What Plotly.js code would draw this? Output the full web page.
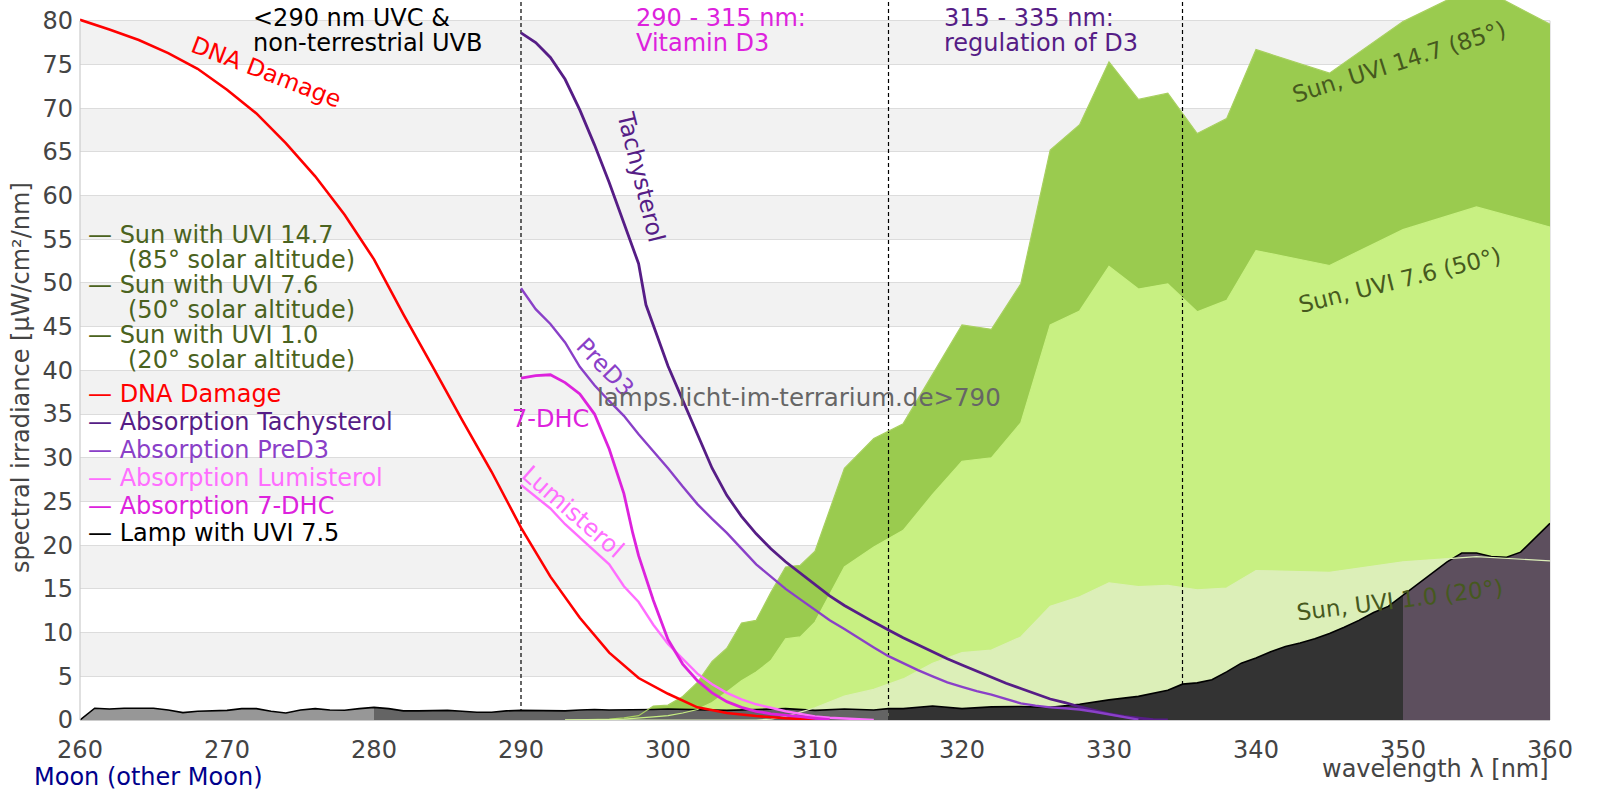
<!DOCTYPE html>
<html>
<head>
<meta charset="utf-8">
<script src="https://cdn.plot.ly/plotly-3.0.1.min.js"></script>
<style>html,body{margin:0;padding:0;background:#fff}#chart{width:1600px;height:800px}</style>
</head>
<body>
<div id="chart"></div>
<script>
// ---------- data ----------
const xTicks = [260, 270, 280, 290, 300, 310, 320, 330, 340, 350, 360];
const yTicks = [0, 5, 10, 15, 20, 25, 30, 35, 40, 45, 50, 55, 60, 65, 70, 75, 80];
const regionBounds = [290, 315, 335];

const sunX = [293,294,295,296,297,298,299,300,301,302,303,304,305,306,307,308,309,310,
  312,314,316,318,320,322,324,326,328,330,332,334,336,338,340,345,350,355,360];
const sunUVI147 = [0,0.02,0.05,0.1,0.25,0.5,1.6,1.7,2.7,4.3,6.7,8.2,11.1,11.4,14.6,17.5,17.7,19.3,
  28.8,32.2,33.9,39.5,45.2,44.7,49.9,65.2,68.1,75.3,71.0,71.7,67.1,68.8,76.7,74.0,79.9,84.0,79.6];
const sunUVI76 = [0,0,0.02,0.05,0.1,0.2,0.35,0.5,0.8,1.2,2.0,3.2,4.5,5.5,6.8,9.3,9.5,11.2,
  17.5,19.8,21.7,25.8,29.6,30.0,34.0,45.2,46.8,51.9,49.3,49.9,46.7,48.0,53.7,52.0,56.1,58.7,56.4];
const sunUVI10 = [0,0,0,0,0,0,0,0,0,0,0,0,0,0,0.1,0.4,0.9,1.4,
  2.75,3.5,4.7,6.5,7.7,8.0,9.5,13.0,14.1,15.7,15.25,15.4,14.9,15.1,17.1,16.9,18.1,18.7,18.2];

const lampX = [260,261,262,263,264,265,266,267,268,269,270,271,272,273,274,275,276,277,278,279,
  280,281,282,283,284,285,286,287,288,289,290,291,292,293,294,295,296,297,298,299,300,
  302,304,306,308,310,312,314,315,316,318,320,322,324,326,328,330,332,334,
  335,336,337,338,339,340,341,342,343,344,345,346,347,348,349,350,351,352,353,354,355,356,357,358,359,360];
const lampUVI75 = [0,1.35,1.25,1.35,1.35,1.35,1.15,0.85,1.0,1.04,1.1,1.3,1.3,1.0,0.8,1.15,1.3,1.15,1.12,1.3,
  1.45,1.3,1.04,1.04,1.04,1.1,1.0,0.88,0.88,1.04,1.1,1.1,1.04,1.04,1.15,1.2,1.15,1.15,1.15,1.2,1.25,
  1.2,1.1,1.2,1.3,1.1,1.25,1.15,1.3,1.3,1.6,1.3,1.5,1.55,1.45,1.8,2.3,2.7,3.4,
  4.1,4.25,4.6,5.5,6.5,7.1,7.8,8.4,8.8,9.3,9.9,10.6,11.4,12.3,13.0,14.3,15.5,16.8,18.1,19.1,19.1,18.7,18.6,19.2,20.8,22.5];
const lampBands = [260, 280, 315, 350, 360];

const dnaX = [260,262,264,266,268,270,272,274,276,278,280,282,284,286,288,290,292,294,296,298,300,302,304,306,308,310];
const dnaDamage = [80.1,79.0,77.8,76.3,74.5,72.1,69.4,66.0,62.2,57.8,52.7,46.4,40.4,34.3,28.4,22.0,16.4,11.7,7.7,4.8,3.0,1.45,0.8,0.45,0.2,0.05];

const tachX = [290,291,292,293,294,295,296,297,298,298.5,299,300,301,302,303,304,305,306,307,308,309,310,
  311,312,313,314,315,316,317,318,319,320,321,322,323,324,325,326,327,328,329,330,331,332,333,334];
const tachysterol = [78.6,77.5,75.8,73.3,69.8,65.8,61.5,56.8,52.2,47.5,45.2,40.5,36.6,32.8,28.8,25.7,23.3,21.3,19.6,18.1,16.8,15.5,
  14.2,13.1,12.1,11.2,10.3,9.4,8.6,7.8,7.0,6.3,5.6,4.9,4.2,3.6,3.0,2.4,2.0,1.5,1.1,0.7,0.4,0.2,0.05,0];

const preX = [290,291,292,293,294,295,296,297,298,299,300,301,302,303,304,305,306,307,308,309,
  310,311,312,313,314,315,316,317,318,319,320,321,322,323,324,325,326,327,328,329,330,331,332];
const preD3 = [49.4,47.0,45.3,43.2,40.4,38.3,36.5,34.8,32.7,30.8,28.8,26.7,24.7,23.0,21.4,19.6,17.8,16.4,15.0,13.8,
  12.6,11.4,10.4,9.3,8.3,7.3,6.5,5.7,5.0,4.3,3.8,3.3,2.9,2.4,1.9,1.65,1.45,1.35,1.2,0.95,0.65,0.35,0.05];

const lumiX = [290,291,292,293,294,295,296,297,298,299,300,301,302,303,304,305,306,307,308,309,310,311,312,313,314];
const lumisterol = [26.9,25.5,24.2,22.4,20.9,19.4,17.8,15.3,13.5,10.9,8.7,7.0,5.3,4.1,3.1,2.35,1.8,1.4,1.0,0.7,0.4,0.25,0.15,0.05,0];

const dhcX = [290,291,292,293,294,295,296,297,297.6,298,299,300,301,302,303,304,305,306,307,308,309,310,311];
const dhc7 = [39.1,39.4,39.5,38.6,37.3,35.0,31.0,25.9,21.4,18.8,13.7,9.2,6.4,4.5,3.1,2.1,1.45,1.0,0.7,0.5,0.38,0.2,0.05];

// ---------- styles ----------
const FONT = 'DejaVu Sans, Verdana, sans-serif';
const C = {
  sun147: '#9acb4f', sun76: '#c8f082', sun10: '#dcefb8',
  lampBands: ['#979797', '#646464', '#333333', '#5d4f5e'],
  dna: '#ff0000', tach: '#561d86', pre: '#8a40c8', lumi: '#ff6eff', dhc: '#dd22dd',
  sunText: '#4b6320', sunLabel: '#46591e', axis: '#444444'
};
const yTop = 82.37;

// ---------- traces ----------
const traces = [];
function fillTrace(x, y, color) {
  return {x, y, type: 'scatter', mode: 'lines', fill: 'tozeroy', fillcolor: color,
          line: {width: 0, color: color}, hoverinfo: 'skip', showlegend: false};
}
function lineTrace(x, y, color, width, dash) {
  return {x, y, type: 'scatter', mode: 'lines', line: {color, width, dash: dash || 'solid'},
          hoverinfo: 'skip', showlegend: false};
}
traces.push(fillTrace(sunX, sunUVI147, C.sun147));
traces.push(fillTrace(sunX, sunUVI76, C.sun76));
traces.push(fillTrace(sunX, sunUVI10, C.sun10));
regionBounds.forEach(b => traces.push(lineTrace([b, b], [0, yTop], '#000', 1.2, '4px,3px')));
for (let i = 0; i < lampBands.length - 1; i++) {
  const xs = [], ys = [];
  lampX.forEach((x, k) => { if (x >= lampBands[i] && x <= lampBands[i + 1]) { xs.push(x); ys.push(lampUVI75[k]); } });
  traces.push(fillTrace(xs, ys, C.lampBands[i]));
}
traces.push(lineTrace(lampX, lampUVI75, '#000', 1.6));
traces.push(lineTrace(sunX, sunUVI147, '#a8d060', 1.2));
traces.push(lineTrace(sunX, sunUVI76, '#c8f082', 1.2));
traces.push(lineTrace(sunX, sunUVI10, '#dcefb8', 1.2));
traces.push(lineTrace(dnaX, dnaDamage, C.dna, 2.6));
traces.push(lineTrace(tachX, tachysterol, C.tach, 2.8));
traces.push(lineTrace(preX, preD3, C.pre, 2.4));
traces.push(lineTrace(lumiX, lumisterol, C.lumi, 2.4));
traces.push(lineTrace(dhcX, dhc7, C.dhc, 2.8));

// ---------- annotations (pixel positions -> paper) ----------
const PL = 80, PR = 1550, PB = 720;
const px = p => (p - PL) / (PR - PL);
const py = p => (PB - p) / PB;
function ann(text, x, y, color, o) {
  o = o || {};
  return {text, x: px(x), y: py(y), xref: 'paper', yref: 'paper', showarrow: false,
          xanchor: o.xa || 'left', yanchor: 'middle', textangle: o.angle || 0,
          font: {family: FONT, size: o.size || 24, color}, borderpad: 0};
}
const annotations = [
  ann('<290 nm UVC &amp;', 252, 18, '#000'),
  ann('non-terrestrial UVB', 252, 43, '#000'),
  ann('290 - 315 nm:', 635, 18, C.dhc),
  ann('Vitamin D3', 635, 43, C.dhc),
  ann('315 - 335 nm:', 943, 18, C.tach),
  ann('regulation of D3', 943, 43, C.tach),

  ann('— Sun with UVI 14.7', 87, 235, C.sunText),
  ann('(85° solar altitude)', 127, 260, C.sunText),
  ann('— Sun with UVI 7.6', 87, 285, C.sunText),
  ann('(50° solar altitude)', 127, 310, C.sunText),
  ann('— Sun with UVI 1.0', 87, 335, C.sunText),
  ann('(20° solar altitude)', 127, 360, C.sunText),
  ann('— DNA Damage', 87, 394, C.dna),
  ann('— Absorption Tachysterol', 87, 422, C.tach),
  ann('— Absorption PreD3', 87, 450, C.pre),
  ann('— Absorption Lumisterol', 87, 478, C.lumi),
  ann('— Absorption 7-DHC', 87, 506, C.dhc),
  ann('— Lamp with UVI 7.5', 87, 533, '#000'),

  ann('DNA Damage', 266, 72, C.dna, {xa: 'center', angle: 21, size: 23.5}),
  ann('Tachysterol', 641, 177, C.tach, {xa: 'center', angle: 76, size: 23.5}),
  ann('PreD3', 605, 367, C.pre, {xa: 'center', angle: 46, size: 23.5}),
  ann('7-DHC', 550, 419, C.dhc, {xa: 'center', size: 24}),
  ann('Lumisterol', 573, 512, C.lumi, {xa: 'center', angle: 41, size: 24}),
  ann('lamps.licht-im-terrarium.de&gt;790', 799, 397, '#666666', {xa: 'center', size: 24.5}),

  ann('Sun, UVI 14.7 (85°)', 1399, 62, C.sunLabel, {xa: 'center', angle: -17.5, size: 23}),
  ann('Sun, UVI 7.6 (50°)', 1400, 280, C.sunLabel, {xa: 'center', angle: -14, size: 23}),
  ann('Sun, UVI 1.0 (20°)', 1400, 600, C.sunLabel, {xa: 'center', angle: -7, size: 23}),

  ann('spectral irradiance [µW/cm²/nm]', 21, 378, C.axis, {xa: 'center', angle: -90, size: 24}),
  ann('wavelength λ [nm]', 1550, 769, C.axis, {xa: 'right', size: 24}),
  ann('Moon (other Moon)', 33, 777, '#00008b', {size: 24})
];

// ---------- shapes: alternating bands & frame ----------
const shapes = [];
for (let i = 1; i < yTicks.length - 1; i += 2) {
  shapes.push({type: 'rect', xref: 'x domain', yref: 'y', x0: 0, x1: 1, y0: yTicks[i], y1: yTicks[i + 1],
               fillcolor: '#f2f2f2', line: {width: 0}, layer: 'below'});
}
shapes.push({type: 'line', xref: 'x domain', yref: 'y', x0: 0, x1: 0, y0: 0, y1: yTicks[yTicks.length - 1],
             line: {color: '#cccccc', width: 1.2}, layer: 'above'});
shapes.push({type: 'line', xref: 'x domain', yref: 'y', x0: 1, x1: 1, y0: 0, y1: yTicks[yTicks.length - 1],
             line: {color: '#d6d6d6', width: 1.2}, layer: 'below'});

const layout = {
  width: 1600, height: 800,
  margin: {l: PL, r: 1600 - PR, t: 0, b: 800 - PB},
  paper_bgcolor: '#ffffff', plot_bgcolor: '#ffffff',
  showlegend: false, hovermode: false,
  xaxis: {range: [260, 360], tickvals: xTicks, ticktext: xTicks.map(String), showgrid: false, zeroline: false,
          showline: true, linecolor: '#cccccc', linewidth: 1.2, ticks: '', ticklabelstandoff: 8,
          tickfont: {family: FONT, size: 24, color: C.axis}, fixedrange: true},
  yaxis: {range: [0, yTop], tickvals: yTicks, ticktext: yTicks.map(String), showgrid: true, gridcolor: '#dcdcdc',
          gridwidth: 1, zeroline: false, showline: false, ticks: '', ticklabelstandoff: 6,
          tickfont: {family: FONT, size: 24, color: C.axis}, fixedrange: true},
  shapes, annotations,
  font: {family: FONT}
};

Plotly.newPlot('chart', traces, layout, {staticPlot: true, displayModeBar: false});
</script>
</body>
</html>
